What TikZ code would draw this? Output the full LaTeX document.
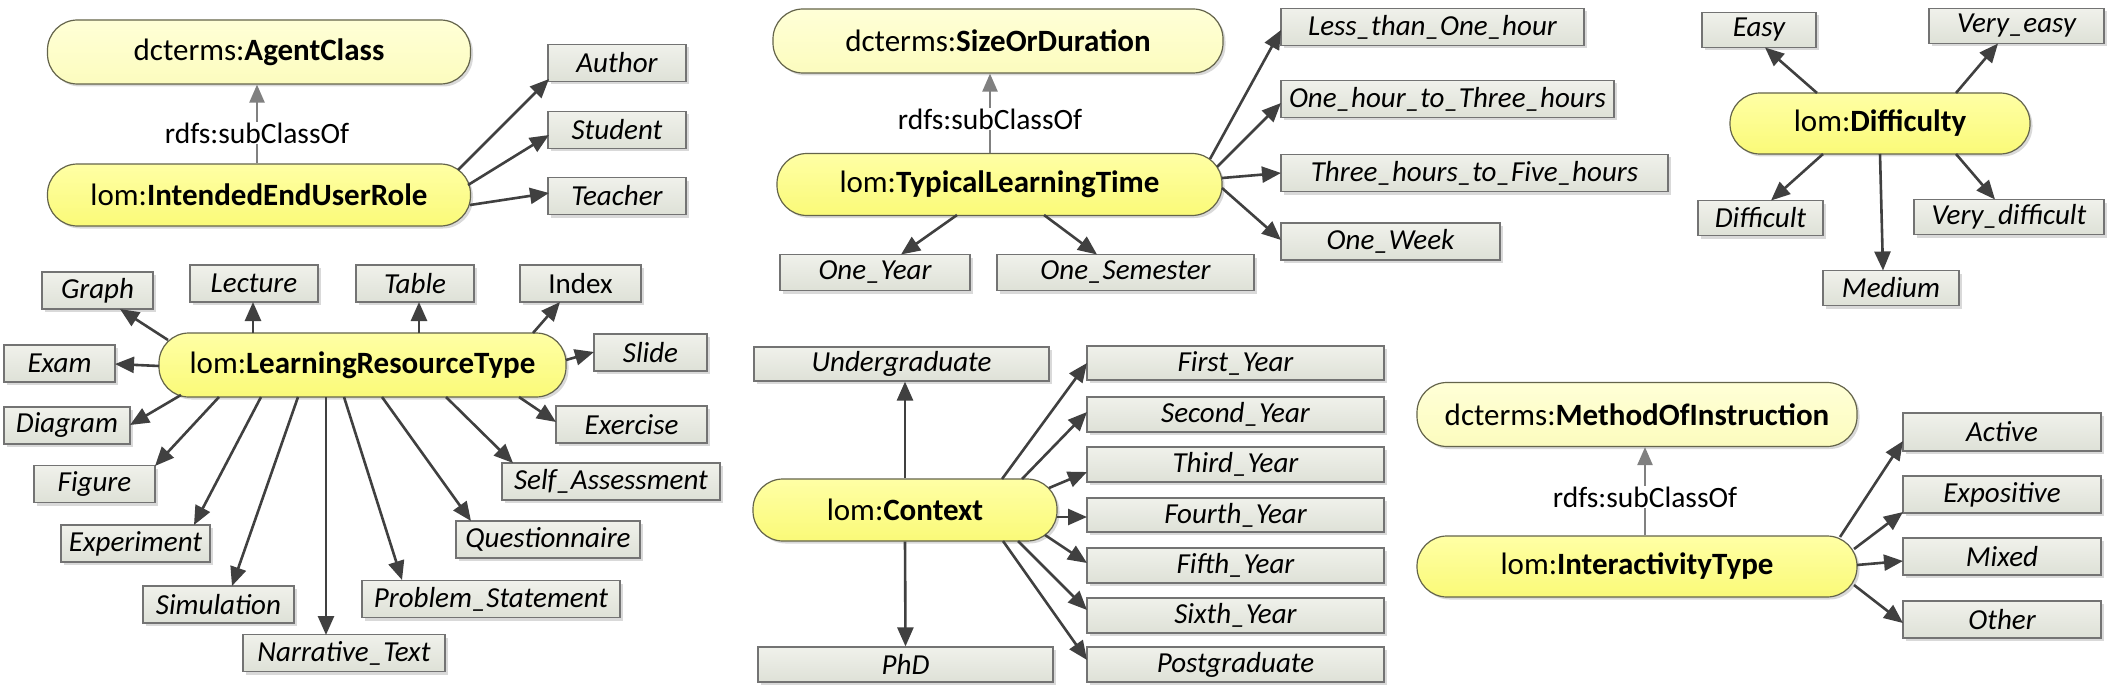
\documentclass[tikz,border=0pt]{standalone}
\usepackage{fontspec}
\setmainfont{Carlito}
\usetikzlibrary{arrows.meta,shadows}
\definecolor{arrcol}{RGB}{64,64,64}
\definecolor{subcol}{RGB}{128,128,128}
\definecolor{clsborder}{RGB}{100,100,75}
\definecolor{clstop}{RGB}{255,255,165}
\definecolor{clsbot}{RGB}{250,250,120}
\definecolor{suptop}{RGB}{255,255,215}
\definecolor{supbot}{RGB}{252,252,190}
\definecolor{leafborder}{RGB}{115,115,115}
\definecolor{leaftop}{RGB}{240,241,235}
\definecolor{leafbot}{RGB}{222,225,215}
\begin{document}
\begin{tikzpicture}[x=1pt,y=-1pt,
  cls/.style={draw=clsborder, line width=1.2pt, rounded corners=30pt, minimum height=62pt, inner sep=0pt,
    top color=clstop, bottom color=clsbot, font=\fontsize{31}{37}\selectfont,
    drop shadow={shadow xshift=2.5pt,shadow yshift=-2.5pt,fill=black,opacity=0.15}},
  supercls/.style={cls, minimum height=64pt, top color=suptop, bottom color=supbot},
  leaf/.style={draw=leafborder, line width=1.2pt, inner sep=0pt, minimum height=37pt,
    top color=leaftop, bottom color=leafbot, font=\fontsize{29}{35}\selectfont\itshape,
    drop shadow={shadow xshift=3pt,shadow yshift=-3pt,fill=black,opacity=0.15}},
  arr/.style={draw=arrcol, line width=2.6pt, -{Triangle[length=19pt,width=16pt]}},
  subarr/.style={draw=subcol, line width=2.4pt, -{Triangle[length=18pt,width=15pt]}},
  lbl/.style={fill=white, inner sep=1pt, font=\fontsize{29.5}{35}\selectfont}
]
\fill[white] (0,0) rectangle (2112,690);
\useasboundingbox (0,0) rectangle (2112,690);

% ---------- Group 1: IntendedEndUserRole ----------
\node[supercls, minimum width=423pt] (agent) at (259,52) {dcterms:\textbf{AgentClass}};
\node[cls, minimum width=423pt] (ieur) at (259,195) {lom:\textbf{IntendedEndUserRole}};
\node[leaf, minimum width=138pt] (author) at (617,63) {Author};
\node[leaf, minimum width=138pt] (student) at (617,130) {Student};
\node[leaf, minimum width=138pt] (teacher) at (617,196) {Teacher};
\draw[subarr] ([xshift=-2pt]ieur.north) -- ([xshift=-2pt]agent.south);
\node[lbl] (l1) at (257,133) {rdfs:subClassOf};
\draw[arr] ([shift={(199,-25)}]ieur.center) -- ([shift={(-68,16)}]author.center);
\draw[arr] ([shift={(209,-10)}]ieur.center) -- ([shift={(-68,5)}]student.center);
\draw[arr] ([shift={(211,10)}]ieur.center) -- ([shift={(-68,-3)}]teacher.center);

% ---------- Group 2: LearningResourceType ----------
\node[cls, minimum width=407pt, minimum height=64pt] (lrt) at (362.5,365) {lom:\textbf{LearningResourceType}};
\node[leaf, minimum width=111pt] (graph) at (97.5,290.5) {Graph};
\node[leaf, minimum width=128pt] (lecture) at (254,283.5) {Lecture};
\node[leaf, minimum width=118pt] (table) at (415,283.5) {Table};
\node[leaf, minimum width=121pt, font=\fontsize{29}{35}\selectfont\upshape] (index) at (580.5,283.5) {Index};
\node[leaf, minimum width=111pt] (exam) at (59.5,363.5) {Exam};
\node[leaf, minimum width=113pt] (slide) at (650.5,352.5) {Slide};
\node[leaf, minimum width=126pt] (diagram) at (67,425.5) {Diagram};
\node[leaf, minimum width=151pt] (exercise) at (631.5,424.5) {Exercise};
\node[leaf, minimum width=121pt] (figure) at (94.5,484) {Figure};
\node[leaf, minimum width=218pt] (selfass) at (611,481.5) {Self\_Assessment};
\node[leaf, minimum width=149pt] (experiment) at (135.5,543.5) {Experiment};
\node[leaf, minimum width=184pt] (questionnaire) at (548,539.5) {Questionnaire};
\node[leaf, minimum width=151pt] (simulation) at (218.5,604.5) {Simulation};
\node[leaf, minimum width=258pt] (problem) at (491,599) {Problem\_Statement};
\node[leaf, minimum width=202pt] (narrative) at (344,653) {Narrative\_Text};
\draw[arr] ([shift={(-194.5,-25)}]lrt.center) -- ([shift={(22.5,18.5)}]graph.center);
\draw[arr] ([shift={(-109.5,-32)}]lrt.center) -- ([shift={(-1,18.5)}]lecture.center);
\draw[arr] ([shift={(56.5,-32)}]lrt.center) -- ([shift={(4,18.5)}]table.center);
\draw[arr] ([shift={(170.5,-32)}]lrt.center) -- ([shift={(-20.5,18.5)}]index.center);
\draw[arr] ([shift={(-203.5,1)}]lrt.center) -- ([shift={(55.5,0.5)}]exam.center);
\draw[arr] ([shift={(203.5,-5)}]lrt.center) -- ([shift={(-56.5,-0.5)}]slide.center);
\draw[arr] ([shift={(-181.5,30)}]lrt.center) -- ([shift={(63,-0.5)}]diagram.center);
\draw[arr] ([shift={(156.5,32)}]lrt.center) -- ([shift={(-75.5,-2.5)}]exercise.center);
\draw[arr] ([shift={(-143.5,32)}]lrt.center) -- ([shift={(60.5,-18)}]figure.center);
\draw[arr] ([shift={(83.5,32)}]lrt.center) -- ([shift={(-98,-18.5)}]selfass.center);
\draw[arr] ([shift={(-101.5,32)}]lrt.center) -- ([shift={(58.5,-18.5)}]experiment.center);
\draw[arr] ([shift={(19.5,32)}]lrt.center) -- ([shift={(-77,-18.5)}]questionnaire.center);
\draw[arr] ([shift={(-64.5,32)}]lrt.center) -- ([shift={(13.5,-18.5)}]simulation.center);
\draw[arr] ([shift={(-18.5,32)}]lrt.center) -- ([shift={(-89,-19)}]problem.center);
\draw[arr] ([shift={(-36.5,32)}]lrt.center) -- ([shift={(-18,-18)}]narrative.center);

% ---------- Group 3: TypicalLearningTime ----------
\node[supercls, minimum width=450pt] (sod) at (998,41) {dcterms:\textbf{SizeOrDuration}};
\node[cls, minimum width=445pt] (tlt) at (999.5,184.5) {lom:\textbf{TypicalLearningTime}};
\node[leaf, minimum width=190pt, minimum height=36pt] (oneyear) at (875,272.5) {One\_Year};
\node[leaf, minimum width=257pt, minimum height=36pt] (onesem) at (1125.5,272.5) {One\_Semester};
\node[leaf, minimum width=303pt] (lessthan) at (1432.5,27) {Less\_than\_One\_hour};
\node[leaf, minimum width=333pt] (onehour) at (1447.5,99) {One\_hour\_to\_Three\_hours};
\node[leaf, minimum width=387pt] (threehours) at (1474.5,173) {Three\_hours\_to\_Five\_hours};
\node[leaf, minimum width=219pt] (oneweek) at (1390.5,241.5) {One\_Week};
\draw[subarr] ([xshift=-9.5pt]tlt.north) -- ([xshift=-8pt]sod.south);
\node[lbl] (l2) at (990,119) {rdfs:subClassOf};
\draw[arr] ([shift={(-42.5,30.5)}]tlt.center) -- ([shift={(26,-18)}]oneyear.center);
\draw[arr] ([shift={(44.5,30.5)}]tlt.center) -- ([shift={(-28.5,-18)}]onesem.center);
\draw[arr] ([shift={(210.5,-25.5)}]tlt.center) -- ([shift={(-151.5,3)}]lessthan.center);
\draw[arr] ([shift={(217.5,-17.5)}]tlt.center) -- ([shift={(-166.5,4)}]onehour.center);
\draw[arr] ([shift={(222.5,-6.5)}]tlt.center) -- ([shift={(-193.5,0)}]threehours.center);
\draw[arr] ([shift={(222.5,3.5)}]tlt.center) -- ([shift={(-109.5,-1.5)}]oneweek.center);

% ---------- Group 4: Difficulty ----------
\node[cls, minimum width=300pt, minimum height=61pt] (diff) at (1880,123.5) {lom:\textbf{Difficulty}};
\node[leaf, minimum width=114pt, minimum height=35pt] (easy) at (1759,30) {Easy};
\node[leaf, minimum width=175pt, minimum height=35pt] (veryeasy) at (2016.5,26) {Very\_easy};
\node[leaf, minimum width=125pt, minimum height=35pt] (difficult) at (1760.5,218) {Difficult};
\node[leaf, minimum width=190pt, minimum height=35pt] (verydiff) at (2009,217) {Very\_difficult};
\node[leaf, minimum width=136pt, minimum height=35pt] (medium) at (1891,288) {Medium};
\draw[arr] ([shift={(-63,-30.5)}]diff.center) -- ([shift={(6,17.5)}]easy.center);
\draw[arr] ([shift={(76,-30.5)}]diff.center) -- ([shift={(-18.5,17.5)}]veryeasy.center);
\draw[arr] ([shift={(-57,30.5)}]diff.center) -- ([shift={(10.5,-17.5)}]difficult.center);
\draw[arr] ([shift={(0,30.5)}]diff.center) -- ([shift={(-8,-17.5)}]medium.center);
\draw[arr] ([shift={(76,30.5)}]diff.center) -- ([shift={(-14,-17.5)}]verydiff.center);

% ---------- Group 5: Context ----------
\node[cls, minimum width=304pt] (context) at (905,510) {lom:\textbf{Context}};
\node[leaf, minimum width=295pt, minimum height=34pt] (undergrad) at (901.5,364) {Undergraduate};
\node[leaf, minimum width=295pt, minimum height=35pt] (phd) at (905.5,664.5) {PhD};
\node[leaf, minimum width=297pt, minimum height=34pt] (y1) at (1235.5,363) {First\_Year};
\node[leaf, minimum width=297pt, minimum height=35pt] (y2) at (1235.5,414.5) {Second\_Year};
\node[leaf, minimum width=297pt, minimum height=35pt] (y3) at (1235.5,464.5) {Third\_Year};
\node[leaf, minimum width=297pt, minimum height=34pt] (y4) at (1235.5,515) {Fourth\_Year};
\node[leaf, minimum width=297pt, minimum height=35pt] (y5) at (1235.5,565.5) {Fifth\_Year};
\node[leaf, minimum width=297pt, minimum height=35pt] (y6) at (1235.5,615.5) {Sixth\_Year};
\node[leaf, minimum width=297pt, minimum height=35pt] (postg) at (1235.5,664.5) {Postgraduate};
\draw[arr] (context.north) -- ([xshift=3.5pt]undergrad.south);
\draw[arr] (context.south) -- (phd.north);
\draw[arr] ([shift={(97,-31)}]context.center) -- ([shift={(-148.5,0)}]y1.center);
\draw[arr] ([shift={(117,-31)}]context.center) -- ([shift={(-148.5,-2.5)}]y2.center);
\draw[arr] ([shift={(144,-22)}]context.center) -- ([shift={(-148.5,7.5)}]y3.center);
\draw[arr] ([shift={(152,7)}]context.center) -- ([shift={(-148.5,2)}]y4.center);
\draw[arr] ([shift={(140,25)}]context.center) -- ([shift={(-148.5,-2.5)}]y5.center);
\draw[arr] ([shift={(113,31)}]context.center) -- ([shift={(-148.5,-5.5)}]y6.center);
\draw[arr] ([shift={(98,31)}]context.center) -- ([shift={(-148.5,-4.5)}]postg.center);

% ---------- Group 6: InteractivityType ----------
\node[supercls, minimum width=440pt] (moi) at (1637,414.5) {dcterms:\textbf{MethodOfInstruction}};
\node[cls, minimum width=440pt, minimum height=61pt] (it) at (1637,566.5) {lom:\textbf{InteractivityType}};
\node[leaf, minimum width=198pt, minimum height=38pt] (active) at (2002,432) {Active};
\node[leaf, minimum width=198pt, minimum height=37pt] (expositive) at (2002,494.5) {Expositive};
\node[leaf, minimum width=198pt, minimum height=37pt] (mixed) at (2002,556.5) {Mixed};
\node[leaf, minimum width=198pt, minimum height=37pt] (other) at (2002,619.5) {Other};
\draw[subarr] ([xshift=8pt]it.north) -- ([xshift=8pt]moi.south);
\node[lbl] (l3) at (1645,497) {rdfs:subClassOf};
\draw[arr] ([shift={(203,-29.5)}]it.center) -- ([shift={(-99,9)}]active.center);
\draw[arr] ([shift={(217,-17.5)}]it.center) -- ([shift={(-99,17.5)}]expositive.center);
\draw[arr] ([shift={(220,-1.5)}]it.center) -- ([shift={(-99,4.5)}]mixed.center);
\draw[arr] ([shift={(217,18.5)}]it.center) -- ([shift={(-99,3.5)}]other.center);
\end{tikzpicture}
\end{document}
